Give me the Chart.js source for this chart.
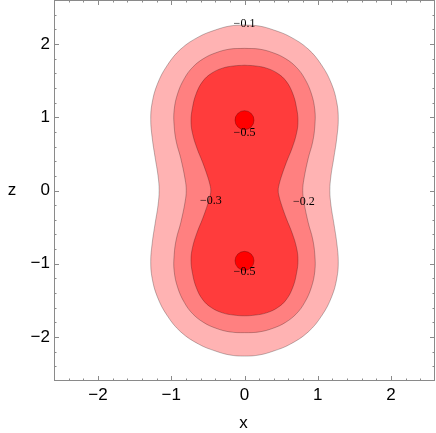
<!DOCTYPE html>
<html>
<head>
<meta charset="utf-8">
<script src="https://cdn.jsdelivr.net/npm/chart.js@4.4.0/dist/chart.umd.min.js"></script>
<style>
  html, body { margin: 0; padding: 0; background: #fff; }
</style>
</head>
<body>
<canvas id="contour" width="436" height="433"></canvas>
<script>
const xTicks = [-2, -1, 0, 1, 2];
const zTicks = [-2, -1, 0, 1, 2];

// Contour outlines, first quadrant only
// (top of the lobe down to the waist at z = 0); the plot is mirror symmetric
const c1X = [0, 0.20, 0.40, 0.62, 0.87, 1.06, 1.19, 1.26, 1.28, 1.26, 1.22, 1.18, 1.165];
const c1Z = [2.26, 2.245, 2.19, 2.10, 1.93, 1.70, 1.45, 1.20, 0.97, 0.72, 0.45, 0.20, 0];
const c2X = [0, 0.20, 0.39, 0.56, 0.71, 0.82, 0.91, 0.96, 0.96, 0.93, 0.87, 0.81, 0.795];
const c2Z = [1.94, 1.93, 1.88, 1.80, 1.68, 1.53, 1.33, 1.10, 0.88, 0.66, 0.44, 0.15, 0];
const c3X = [0, 0.15, 0.30, 0.45, 0.57, 0.66, 0.71, 0.73, 0.71, 0.65, 0.57, 0.50, 0.465, 0.46];
const c3Z = [1.71, 1.70, 1.67, 1.60, 1.49, 1.32, 1.13, 0.95, 0.78, 0.58, 0.38, 0.18, 0.05, 0];
const wellX = [0, 0];
const wellZ = [0.96, -0.96];

const labelText = ["\u22120.1", "\u22120.5", "\u22120.5", "\u22120.3", "\u22120.2"];
const labelX = [0, 0, 0, -0.46, 0.81];
const labelZ = [2.27, 0.79, -1.11, -0.14, -0.15];

const shades = ["#ffb3b3", "#ff8080", "#ff3c3c", "#ff0000"];
const edge = "rgba(0,0,0,0.32)";
const sansFont = "17px 'Liberation Sans', Arial, sans-serif";

function closedLoop(xs, zs) {
    const q1 = xs.map((x, i) => ({ x: x, y: zs[i] }));
    const pts = [];
    q1.forEach(p => pts.push({ x: p.x, y: p.y }));
    q1.slice(0, -1).reverse().forEach(p => pts.push({ x: p.x, y: -p.y }));
    q1.slice(1).forEach(p => pts.push({ x: -p.x, y: -p.y }));
    q1.slice(0, -1).reverse().forEach(p => pts.push({ x: -p.x, y: p.y }));
    return pts;
}

function contourSet(xs, zs, color, order) {
    return {
        data: closedLoop(xs, zs),
        showLine: true,
        fill: "shape",
        backgroundColor: color,
        borderColor: edge,
        borderWidth: 0.8,
        pointRadius: 0,
        tension: 0.4,
        order: order,
    };
}

function tickText(v) {
    return String(v).replace("-", "\u2212");
}

const framePlugin = {
    id: "frame",
    afterDraw(chart) {
        const { ctx, chartArea: a, scales } = chart;
        const sx = scales.x, sy = scales.y;
        ctx.save();
        ctx.strokeStyle = "#8a8a8a";
        ctx.lineWidth = 1;
        ctx.strokeRect(a.left + 0.5, a.top + 0.5, a.right - a.left - 1, a.bottom - a.top - 1);

        ctx.beginPath();
        for (let k = -12; k <= 12; k++) {
            const v = k / 5;
            const len = k % 5 === 0 ? 5 : 2.5;
            const px = Math.round(sx.getPixelForValue(v)) + 0.5;
            ctx.moveTo(px, a.bottom);
            ctx.lineTo(px, a.bottom - len);
            ctx.moveTo(px, a.top);
            ctx.lineTo(px, a.top + len);
            const py = Math.round(sy.getPixelForValue(v)) + 0.5;
            ctx.moveTo(a.left, py);
            ctx.lineTo(a.left + len, py);
            ctx.moveTo(a.right, py);
            ctx.lineTo(a.right - len, py);
        }
        ctx.stroke();

        // tick labels
        ctx.fillStyle = "#000";
        ctx.font = sansFont;
        ctx.textBaseline = "middle";
        ctx.textAlign = "center";
        xTicks.forEach(v => ctx.fillText(tickText(v), sx.getPixelForValue(v), a.bottom + 14));
        ctx.textAlign = "right";
        zTicks.forEach(v => ctx.fillText(tickText(v), a.left - 4, sy.getPixelForValue(v)));

        // axis titles
        ctx.textAlign = "center";
        ctx.fillText("x", (a.left + a.right) / 2 - 1, chart.height - 10);
        ctx.fillText("z", 12, (a.top + a.bottom) / 2);

        // contour level labels
        ctx.font = "12px 'Liberation Serif', 'DejaVu Serif', serif";
        labelText.forEach((t, i) => {
            ctx.fillText(t, sx.getPixelForValue(labelX[i]), sy.getPixelForValue(labelZ[i]));
        });
        ctx.restore();
    },
};

new Chart(document.getElementById("contour"), {
    type: "scatter",
    data: {
        datasets: [
            contourSet(c1X, c1Z, shades[0], 4),
            contourSet(c2X, c2Z, shades[1], 3),
            contourSet(c3X, c3Z, shades[2], 2),
            {
                data: wellX.map((x, i) => ({ x: x, y: wellZ[i] })),
                showLine: false,
                pointRadius: 9.5,
                pointBackgroundColor: shades[3],
                pointBorderColor: edge,
                pointBorderWidth: 0.8,
                order: 1,
            },
        ],
    },
    options: {
        responsive: false,
        animation: false,
        layout: { autoPadding: false, padding: { top: 0, right: 1, left: 0, bottom: 0 } },
        plugins: { legend: { display: false }, tooltip: { enabled: false } },
        scales: {
            x: {
                type: "linear",
                min: -2.6,
                max: 2.6,
                afterFit: s => { s.height = 52; },
                grid: { display: false, drawTicks: false },
                border: { display: false },
                ticks: { display: false },
            },
            y: {
                type: "linear",
                min: -2.6,
                max: 2.6,
                afterFit: s => { s.width = 54; },
                grid: { display: false, drawTicks: false },
                border: { display: false },
                ticks: { display: false },
            },
        },
    },
    plugins: [framePlugin],
});
</script>
</body>
</html>
